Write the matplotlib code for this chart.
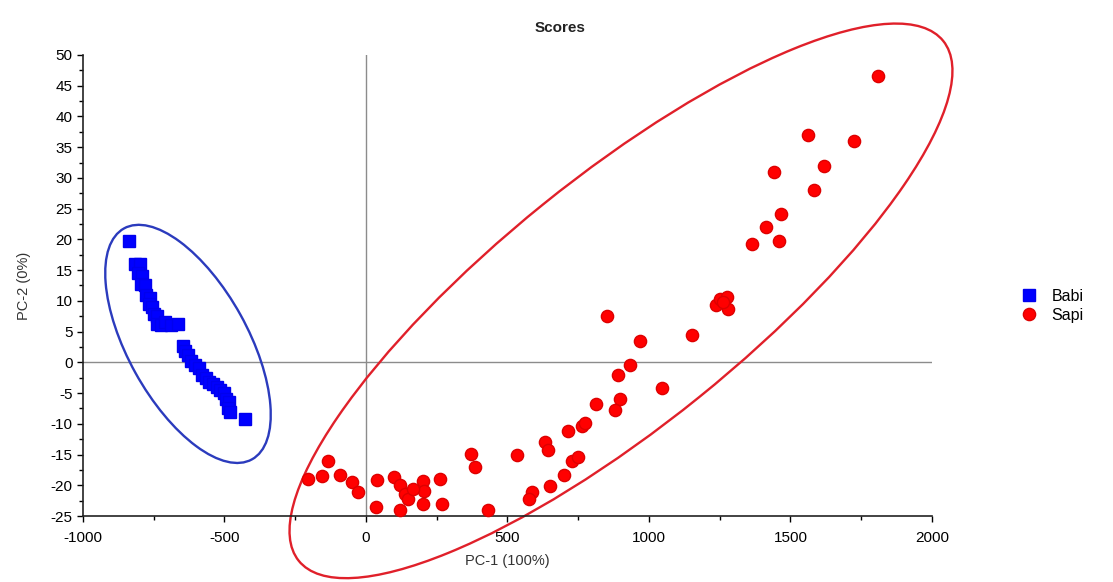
import matplotlib
matplotlib.use("Agg")
import matplotlib.pyplot as plt
from matplotlib.patches import Ellipse
from matplotlib.transforms import ScaledTranslation
from matplotlib.ticker import MultipleLocator

plt.rcParams['font.family'] = ['Liberation Sans', 'DejaVu Sans']
plt.rcParams['axes.unicode_minus'] = False

# ---- data ----
babi_x = [-836, -815, -800, -805, -790, -795, -780, -778, -765, -768, -755, -750, -738,
          -740, -725, -710, -690, -665,
          -645, -640, -630, -620, -605, -590, -580, -565, -555, -540, -525, -515,
          -500, -495, -485, -488, -480, -428]
babi_y = [19.7, 16.0, 16.0, 14.5, 14.0, 12.8, 12.5, 11.0, 10.5, 9.5, 9.0, 7.8, 7.5,
          6.2, 6.0, 6.5, 6.0, 6.2,
          2.6, 1.8, 1.2, 0.2, -0.5, -1.0, -2.0, -2.5, -3.2, -3.5, -4.0, -4.5,
          -5.0, -6.0, -6.5, -7.5, -8.0, -9.3]

sapi_x = [1809, 1562, 1723, 1618, 1442, 1583, 1466, 1413, 1459, 1364,
          1237, 1251, 1276, 1279, 1261, 1151, 968, 852, 933, 892,
          1045, 898, 880, 813, 715, 762, 774, 632, 644, 532,
          727, 750, 701, 650, 585, 577, 371, 385, 432, 261,
          267, 200, 205, 203, -133, -204, -154, -92, -51, -27,
          38, 35, 99, 120, 138, 150, 167, 120]
sapi_y = [46.6, 37.0, 36.0, 32.0, 31.0, 28.0, 24.2, 22.0, 19.7, 19.2,
          9.3, 10.3, 10.7, 8.7, 9.8, 4.4, 3.4, 7.5, -0.4, -2.0,
          -4.2, -6.0, -7.8, -6.8, -11.2, -10.3, -9.8, -12.9, -14.3, -15.1,
          -16.1, -15.4, -18.3, -20.2, -21.1, -22.2, -14.9, -17.0, -24.1, -19.0,
          -23.1, -19.3, -21.0, -23.0, -16.0, -19.0, -18.5, -18.4, -19.5, -21.1,
          -19.2, -23.6, -18.7, -20.0, -21.4, -22.2, -20.6, -24.1]

xticks = [-1000, -500, 0, 500, 1000, 1500, 2000]
yticks = list(range(-25, 51, 5))

# ---- figure ----
W, H = 1113, 582
fig = plt.figure(figsize=(W / 100, H / 100), dpi=100)
ax = fig.add_axes([83 / W, 1 - 516 / H, (932 - 83) / W, (516 - 55) / H])

ax.axhline(0, color='#8c8c8c', lw=1.0, zorder=1)
ax.axvline(0, color='#8c8c8c', lw=1.0, zorder=1)

ax.plot(babi_x, babi_y, linestyle='none', marker='s', ms=8.5, color='#0000ff',
        mec='#0000ee', label='Babi', zorder=3, clip_on=False)
ax.plot(sapi_x, sapi_y, linestyle='none', marker='o', ms=8.8, color='#ff0000',
        mec='#dd0000', label='Sapi', zorder=3, clip_on=False)

ax.set_xlim(-1000, 2000)
ax.set_ylim(-25, 50)
ax.set_xticks(xticks)
ax.set_yticks(yticks)
ax.xaxis.set_minor_locator(MultipleLocator(250))
ax.yaxis.set_minor_locator(MultipleLocator(2.5))
ax.tick_params(axis='both', which='major', direction='out', length=4, width=1,
               labelsize=11, colors='black')
ax.tick_params(axis='x', which='major', pad=7)
ax.tick_params(axis='both', which='minor', direction='out', length=3, width=1)

for s in ['top', 'right']:
    ax.spines[s].set_visible(False)
for s in ['left', 'bottom']:
    ax.spines[s].set_linewidth(1.2)
    ax.spines[s].set_color('#222222')

ax.set_xlabel('PC-1 (100%)', fontsize=10.5, color='#333333', labelpad=6)
ax.set_ylabel('PC-2 (0%)', fontsize=10.5, color='#333333', labelpad=14)

fig.text(560 / W, 1 - 28 / H, 'Scores', ha='center', va='center',
         fontsize=11, fontweight='bold', color='#222222')

# ellipses (annotation outlines, sized in inches on screen, centred in data coords)
def add_ellipse(cx, cy, w_in, h_in, angle, color):
    tr = fig.dpi_scale_trans + ScaledTranslation(cx, cy, ax.transData)
    e = Ellipse((0, 0), w_in, h_in, angle=angle, transform=tr, fill=False,
                edgecolor=color, lw=1.7, clip_on=False, zorder=2)
    ax.add_patch(e)

add_ellipse(-629, 3.0, 2.64, 1.20, -61, '#2b3bbd')
add_ellipse(901, 10.0, 8.28, 2.48, 38.9, '#e0202a')

leg = ax.legend(loc='center left', bbox_to_anchor=(1005 / W, 1 - 306 / H),
                bbox_transform=fig.transFigure, frameon=False, fontsize=11.5,
                handletextpad=0.8, labelspacing=0.25, handlelength=1.2)

fig.savefig('out.png', dpi=100)
